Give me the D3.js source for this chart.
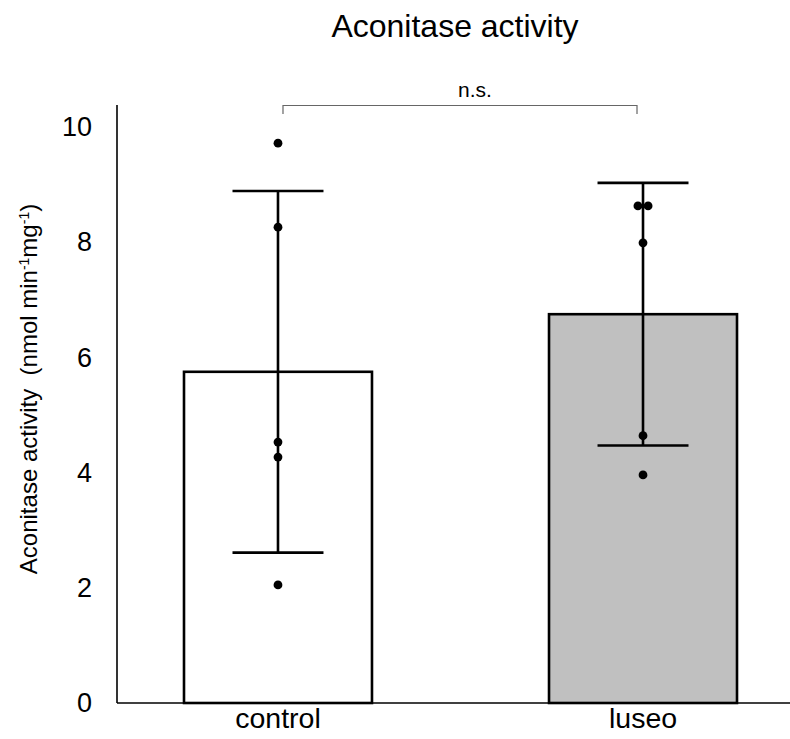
<!DOCTYPE html>
<html>
<head>
<meta charset="utf-8">
<script src="https://cdn.jsdelivr.net/npm/d3@7"></script>
<style>
  html, body { margin: 0; padding: 0; background: #fff; }
  svg { display: block; font-family: "Liberation Sans", Arial, sans-serif; }
</style>
</head>
<body>
<svg id="chart" width="790" height="739"></svg>
<script>
// Group summaries
const groups = ["control", "luseo"];
const means = [5.75, 6.75];
const sds = [3.14, 2.28];
const fills = ["#ffffff", "#c0c0c0"];
// Individual measurements and their horizontal jitter (fraction of band)
const controlPoints = [9.72, 8.26, 4.53, 4.27, 2.05];
const controlJitter = [0, 0, 0, 0, 0];
const luseoPoints = [8.63, 8.63, 7.99, 4.64, 3.96];
const luseoJitter = [-0.027, 0.027, 0, 0, 0];
const yTicks = [0, 2, 4, 6, 8, 10];

const svg = d3.select("#chart");

const x = d3.scaleBand().domain(groups)
  .range([184, 737]).paddingInner(0.485).paddingOuter(0);
const y = d3.scaleLinear().domain([0, 10]).range([703, 127]);

// Title
svg.append("text").attr("x", 455).attr("y", 37)
  .attr("text-anchor", "middle").attr("font-size", 32).attr("fill", "#000")
  .text("Aconitase activity");

// Bars
svg.selectAll("rect.bar").data(groups).join("rect")
  .attr("class", "bar")
  .attr("x", d => x(d)).attr("width", x.bandwidth())
  .attr("y", (d, i) => y(means[i]))
  .attr("height", (d, i) => y(0) - y(means[i]))
  .attr("fill", (d, i) => fills[i])
  .attr("stroke", "#000").attr("stroke-width", 2.6);

// Error bars (mean ± SD)
const capHalf = x.bandwidth() * 0.242;
groups.forEach((g, i) => {
  const cx = x(g) + x.bandwidth() / 2;
  const top = y(means[i] + sds[i]), bot = y(means[i] - sds[i]);
  const eg = svg.append("g").attr("stroke", "#000").attr("stroke-width", 2.6);
  eg.append("line").attr("x1", cx).attr("x2", cx).attr("y1", top).attr("y2", bot);
  eg.append("line").attr("x1", cx - capHalf).attr("x2", cx + capHalf).attr("y1", top).attr("y2", top);
  eg.append("line").attr("x1", cx - capHalf).attr("x2", cx + capHalf).attr("y1", bot).attr("y2", bot);
});

// Individual points
const pts = [
  ...controlPoints.map((v, k) => ({ g: "control", v, j: controlJitter[k] })),
  ...luseoPoints.map((v, k) => ({ g: "luseo", v, j: luseoJitter[k] }))
];
svg.selectAll("circle.pt").data(pts).join("circle")
  .attr("class", "pt")
  .attr("cx", d => x(d.g) + x.bandwidth() / 2 + d.j * x.bandwidth())
  .attr("cy", d => y(d.v))
  .attr("r", 4.4).attr("fill", "#000");

// Axes (lines only, no tick marks)
const yAxis = svg.append("g").attr("transform", "translate(117,0)")
  .call(d3.axisLeft(y).tickValues(yTicks).tickSize(0).tickPadding(25).tickFormat(d3.format("d")));
yAxis.select(".domain").attr("stroke", "#000").attr("stroke-width", 1.6)
  .attr("d", "M0,105V703");
yAxis.selectAll("text").attr("font-size", 27).attr("fill", "#000")
  .attr("font-family", "Liberation Sans, Arial, sans-serif");

const xAxis = svg.append("g").attr("transform", "translate(0,703)")
  .call(d3.axisBottom(x).tickSize(0));
xAxis.select(".domain").attr("stroke", "#000").attr("stroke-width", 1.6)
  .attr("d", "M117,0H790");
xAxis.selectAll("text").attr("font-size", 28.5).attr("fill", "#000")
  .attr("y", 25).attr("dy", null)
  .attr("font-family", "Liberation Sans, Arial, sans-serif");

// Y axis title
const yl = svg.append("text")
  .attr("transform", "translate(37,389) rotate(-90)")
  .attr("text-anchor", "middle").attr("font-size", 24).attr("fill", "#000");
yl.append("tspan").text("Aconitase activity\u00a0\u00a0(nmol min");
yl.append("tspan").attr("dy", -8).attr("font-size", 14).text("-1");
yl.append("tspan").attr("dy", 8).text("mg");
yl.append("tspan").attr("dy", -8).attr("font-size", 14).text("-1");
yl.append("tspan").attr("dy", 8).text(")");

// Significance bracket
const bx1 = x("control") + x.bandwidth() / 2 + 5;
const bx2 = x("luseo") + x.bandwidth() / 2 - 6;
svg.append("path")
  .attr("d", `M${bx1},114V105.5H${bx2}V114`)
  .attr("fill", "none").attr("stroke", "#666").attr("stroke-width", 1.2);
svg.append("text").attr("x", (bx1 + bx2) / 2 + 15).attr("y", 97)
  .attr("text-anchor", "middle").attr("font-size", 21).attr("fill", "#000")
  .text("n.s.");
</script>
</body>
</html>
